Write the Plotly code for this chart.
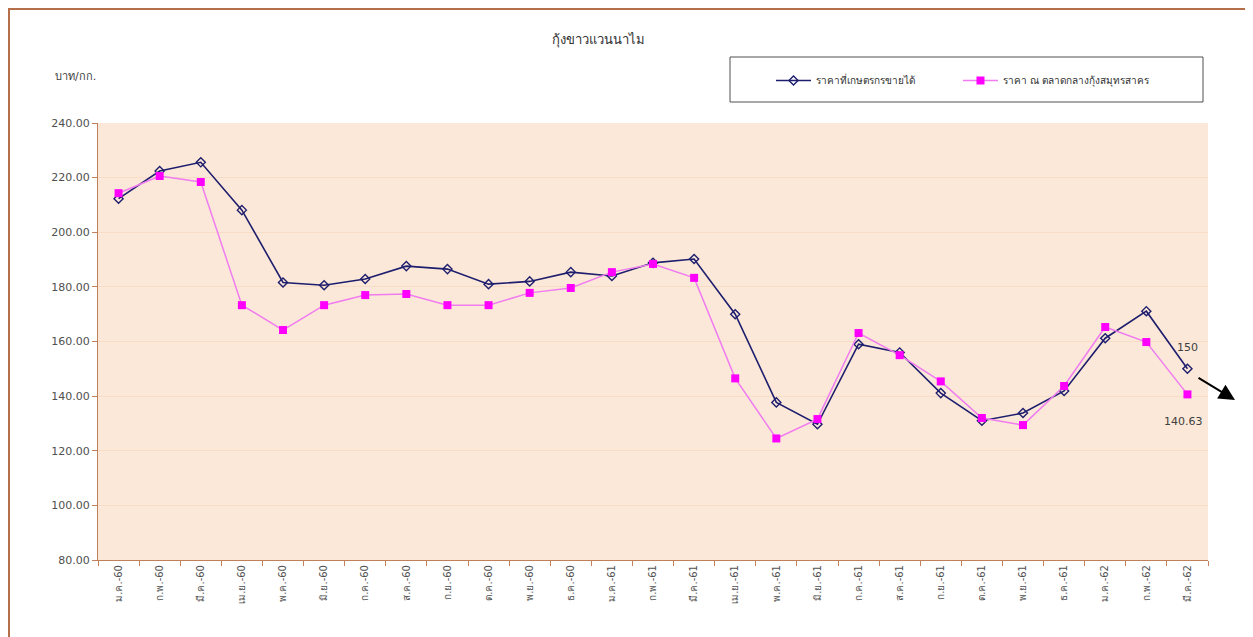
import plotly.graph_objects as go

months = ["ม.ค.-60", "ก.พ.-60", "มี.ค.-60", "เม.ย.-60", "พ.ค.-60", "มิ.ย.-60", "ก.ค.-60", "ส.ค.-60",
          "ก.ย.-60", "ต.ค.-60", "พ.ย.-60", "ธ.ค.-60", "ม.ค.-61", "ก.พ.-61", "มี.ค.-61", "เม.ย.-61",
          "พ.ค.-61", "มิ.ย.-61", "ก.ค.-61", "ส.ค.-61", "ก.ย.-61", "ต.ค.-61", "พ.ย.-61", "ธ.ค.-61",
          "ม.ค.-62", "ก.พ.-62", "มี.ค.-62"]

farmer_price = [212.3, 222.4, 225.6, 208.1, 181.6, 180.6, 182.9, 187.6, 186.5, 181.0, 182.0, 185.4,
                184.0, 188.8, 190.2, 170.0, 137.7, 129.7, 159.0, 156.0, 141.1, 131.0, 133.8, 141.9,
                161.2, 171.1, 150.0]

market_price = [214.3, 220.6, 218.4, 173.3, 164.2, 173.3, 177.0, 177.4, 173.3, 173.3, 177.8, 179.6,
                185.4, 188.4, 183.3, 146.5, 124.5, 131.6, 163.1, 155.0, 145.4, 132.0, 129.4, 143.7,
                165.3, 159.8, 140.63]

series_names = ["ราคาที่เกษตรกรขายได้", "ราคา ณ ตลาดกลางกุ้งสมุทรสาคร"]
title_text = "กุ้งขาวแวนนาไม"
y_title = "บาท/กก."
last_labels = ["150", "140.63"]

FONT = "Tahoma, 'DejaVu Sans', 'Noto Sans', sans-serif"
AXIS_COLOR = "#C0805A"

# page offset (body margin) and figure size
OFF = 8
W, H = 1245, 629
# plot area in screen pixels
SL, SR, ST, SB = 98, 1208, 123, 560
ML, MR, MT, MB = SL - OFF, W - (SR - OFF), ST - OFF, H - (SB - OFF)
pw, ph = W - ML - MR, H - MT - MB

def px_x(p):
    return (p - SL) / pw

def px_y(p):
    return (SB - p) / ph

fig = go.Figure()
fig.add_trace(go.Scatter(
    x=months, y=farmer_price, name=series_names[0], mode="lines+markers",
    line=dict(color="#1E1E6E", width=1.6), legend="legend",
    marker=dict(symbol="diamond-open", size=7, color="#1E1E6E", line=dict(width=1.4, color="#1E1E6E")),
))
fig.add_trace(go.Scatter(
    x=months, y=market_price, name=series_names[1], mode="lines+markers",
    line=dict(color="#F07CF0", width=1.5), legend="legend2",
    marker=dict(symbol="square", size=8, color="#FF00FF"),
))

legend_common = dict(
    orientation="h", xanchor="left", yanchor="top",
    borderwidth=0, bgcolor="rgba(0,0,0,0)",
    font=dict(size=10, color="#303030"), itemwidth=35,
)

fig.update_layout(
    width=W, height=H,
    margin=dict(l=ML, r=MR, t=MT, b=MB),
    paper_bgcolor="white",
    plot_bgcolor="#FCE8D8",
    font=dict(family=FONT, color="#404040", size=11),
    showlegend=True,
    legend=dict(x=px_x(771), y=px_y(66), **legend_common),
    legend2=dict(x=px_x(958), y=px_y(66), **legend_common),
    xaxis=dict(
        type="category", tickangle=-90, tickfont=dict(size=10, color="#505050"),
        showgrid=False, showline=True, linecolor=AXIS_COLOR, linewidth=1,
        ticks="outside", tickson="boundaries", ticklen=5, tickcolor=AXIS_COLOR,
        range=[-0.5, len(months) - 0.5],
    ),
    yaxis=dict(
        range=[80, 240], dtick=20, tickformat=".2f",
        showgrid=True, gridcolor="#F7DCC6", gridwidth=1,
        showline=True, linecolor=AXIS_COLOR, linewidth=1,
        ticks="outside", ticklen=5, tickcolor=AXIS_COLOR,
        tickfont=dict(size=11, color="#505050"), zeroline=False,
    ),
)

annotations = [
    dict(text=title_text, xref="paper", yref="paper", x=px_x(598), y=px_y(40),
         showarrow=False, font=dict(size=13, color="#303030"), xanchor="center", yanchor="middle"),
    dict(text=y_title, xref="paper", yref="paper", x=px_x(75), y=px_y(76),
         showarrow=False, font=dict(size=11, color="#404040"), xanchor="center", yanchor="middle"),
    dict(text=last_labels[0], xref="x", yref="y", x=months[-1], y=farmer_price[-1],
         yshift=21, showarrow=False, font=dict(size=11, color="#404040")),
    dict(text=last_labels[1], xref="x", yref="y", x=months[-1], y=market_price[-1],
         yshift=-27, xshift=-4, showarrow=False, font=dict(size=11, color="#404040")),
    dict(text="", xref="paper", yref="paper", x=px_x(1235), y=px_y(400),
         ax=-38, ay=-23, showarrow=True, arrowhead=2, arrowsize=1.6, arrowwidth=2,
         arrowcolor="black"),
]
fig.update_layout(annotations=annotations)

# legend box
fig.add_shape(type="rect", xref="paper", yref="paper",
              x0=px_x(730), x1=px_x(1203), y0=px_y(102), y1=px_y(57),
              line=dict(color="#505050", width=1), fillcolor="white", layer="below")

# outer frame (drawn at the edge of the figure canvas)
fig.add_shape(type="rect", xref="paper", yref="paper",
              x0=px_x(OFF + 1), x1=px_x(OFF + W + 10), y0=px_y(OFF + H + 10), y1=px_y(OFF + 1),
              line=dict(color="#B5704A", width=2), fillcolor="rgba(0,0,0,0)", layer="above")

fig.write_html("out.html")
